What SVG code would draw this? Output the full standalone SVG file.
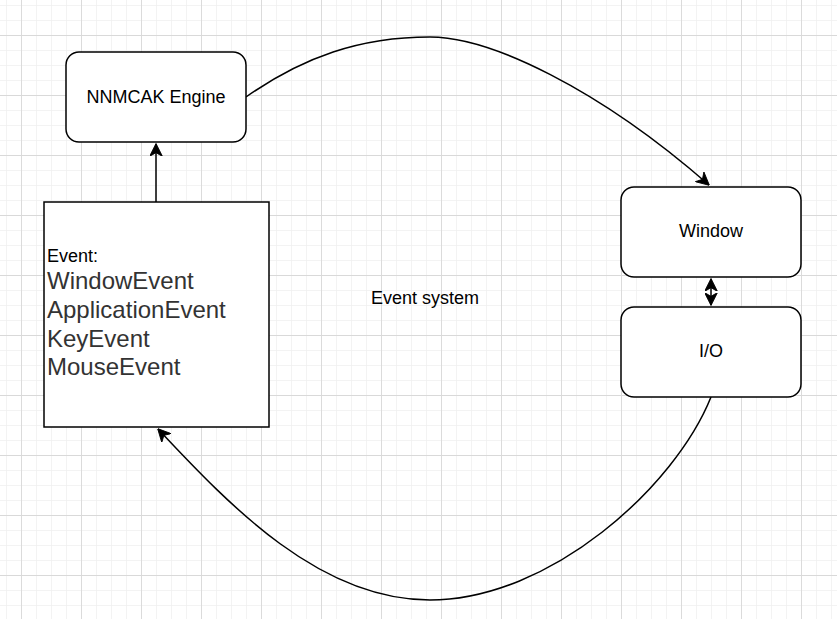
<svg xmlns="http://www.w3.org/2000/svg" width="837" height="619" viewBox="0 0 837 619">
  <defs>
    <pattern id="minor" x="6" y="5" width="15" height="15" patternUnits="userSpaceOnUse">
      <path d="M0,0 V15 M0,0 H15" fill="none" stroke="#f0f0f0" stroke-width="1.5"/>
    </pattern>
    <pattern id="major" x="21" y="35" width="60" height="60" patternUnits="userSpaceOnUse">
      <path d="M0,0 V60 M0,0 H60" fill="none" stroke="#d9d9d9" stroke-width="1.8"/>
    </pattern>
    <marker id="arrow" viewBox="0 0 12 12" refX="11.5" refY="6" markerWidth="13" markerHeight="13" markerUnits="userSpaceOnUse" orient="auto-start-reverse">
      <path d="M0,0 L12,6 L0,12 L3.5,6 Z" fill="#000" stroke="#000" stroke-width="0.8" stroke-linejoin="miter"/>
    </marker>
  </defs>
  <style>
    .node { fill: #ffffff; stroke: #000000; stroke-width: 1.5; }
    .lbl { font-family: "Liberation Sans", Arial, sans-serif; font-size: 18px; fill: #000000; }
    .big { font-family: "Liberation Sans", Arial, sans-serif; font-size: 24px; fill: #333333; }
    .edge { fill: none; stroke: #000000; stroke-width: 1.5; }
  </style>
  <rect x="0" y="0" width="837" height="619" fill="#ffffff"/>
  <rect x="0" y="0" width="837" height="619" fill="url(#minor)"/>
  <rect x="0" y="0" width="837" height="619" fill="url(#major)"/>

  <g id="connectors">
    <path class="edge" d="M156,202 L156,144" marker-end="url(#arrow)"/>
    <path class="edge" d="M246,97 C303,57 360,37 430,37 C490,37 598,88 709,185" marker-end="url(#arrow)"/>
    <path class="edge" d="M711,279 L711,305" marker-start="url(#arrow)" marker-end="url(#arrow)"/>
    <path class="edge" d="M711,397 C675,487 550,600 430,600 C320,600 231,507 158,429" marker-end="url(#arrow)"/>
  </g>

  <g id="node-engine">
    <rect class="node" x="66" y="52" width="180" height="90" rx="13" ry="13"/>
    <text class="lbl" x="156" y="103" text-anchor="middle">NNMCAK Engine</text>
  </g>

  <g id="node-event">
    <rect class="node" x="44" y="202" width="225" height="225"/>
    <text class="lbl" x="47" y="262">Event:</text>
    <text class="big" x="47" y="289">WindowEvent</text>
    <text class="big" x="47" y="318">ApplicationEvent</text>
    <text class="big" x="47" y="347">KeyEvent</text>
    <text class="big" x="47" y="375">MouseEvent</text>
  </g>

  <g id="node-window">
    <rect class="node" x="621" y="187" width="180" height="90" rx="13" ry="13"/>
    <text class="lbl" x="711" y="237" text-anchor="middle">Window</text>
  </g>

  <g id="node-io">
    <rect class="node" x="621" y="307" width="180" height="90" rx="13" ry="13"/>
    <text class="lbl" x="711" y="357" text-anchor="middle">I/O</text>
  </g>

  <g id="label-event-system">
    <text class="lbl" x="425" y="304" text-anchor="middle">Event system</text>
  </g>
</svg>
